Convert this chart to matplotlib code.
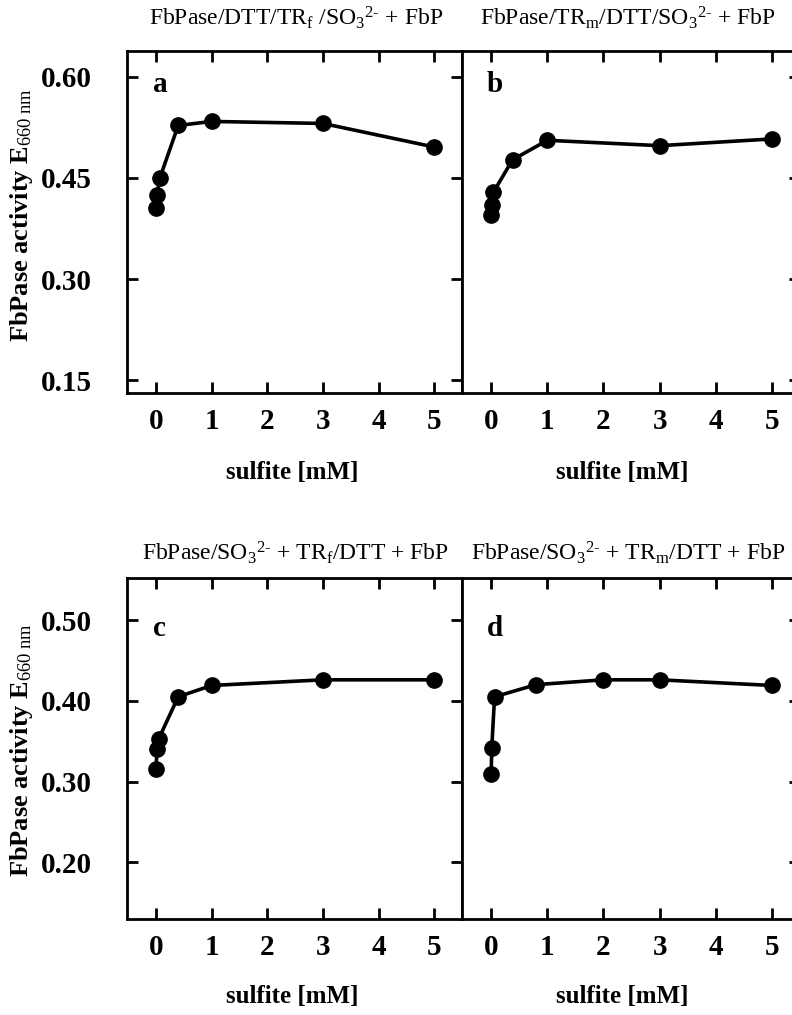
import matplotlib
matplotlib.use("Agg")
import matplotlib.pyplot as plt

plt.rcParams['font.family'] = ['Liberation Serif', 'DejaVu Serif']
plt.rcParams['mathtext.fontset'] = 'custom'
plt.rcParams['mathtext.rm'] = 'Liberation Serif'
plt.rcParams['mathtext.it'] = 'Liberation Serif:italic'
plt.rcParams['mathtext.bf'] = 'Liberation Serif:bold'

# sulfite concentration [mM] and FbPase activity (E660 nm) per panel
sulfite_a = [0, 0.02, 0.07, 0.4, 1, 3, 5]
activity_a = [0.405, 0.425, 0.450, 0.528, 0.534, 0.531, 0.496]

sulfite_b = [0, 0.02, 0.04, 0.38, 1, 3, 5]
activity_b = [0.395, 0.410, 0.429, 0.477, 0.506, 0.498, 0.508]

sulfite_c = [0, 0.02, 0.05, 0.4, 1, 3, 5]
activity_c = [0.316, 0.340, 0.353, 0.405, 0.419, 0.426, 0.426]

sulfite_d = [0, 0.01, 0.06, 0.8, 2, 3, 5]
activity_d = [0.310, 0.342, 0.405, 0.420, 0.426, 0.426, 0.419]

titles = [r'FbPase/DTT/TR$_\mathrm{f}$ /SO$_3$$^{2\text{-}}$ + FbP',
          r'FbPase/TR$_\mathrm{m}$/DTT/SO$_3$$^{2\text{-}}$ + FbP',
          r'FbPase/SO$_3$$^{2\text{-}}$ + TR$_\mathrm{f}$/DTT + FbP',
          r'FbPase/SO$_3$$^{2\text{-}}$ + TR$_\mathrm{m}$/DTT + FbP']
letters = ['a', 'b', 'c', 'd']
xticks = [0, 1, 2, 3, 4, 5]
yticks_top = [0.15, 0.30, 0.45, 0.60]
yticks_bottom = [0.20, 0.30, 0.40, 0.50]

W, H = 792, 1015
fig = plt.figure(figsize=(W / 100, H / 100), dpi=100)


def box(x0, y0, x1, y1):
    # pixel box (top-left origin) -> figure fraction rect
    return [x0 / W, 1 - y1 / H, (x1 - x0) / W, (y1 - y0) / H]


axes = [fig.add_axes(box(127, 51, 462, 393)),
        fig.add_axes(box(462, 51, 800, 393)),
        fig.add_axes(box(127, 578, 462, 919)),
        fig.add_axes(box(462, 578, 800, 919))]

data = [(sulfite_a, activity_a), (sulfite_b, activity_b),
        (sulfite_c, activity_c), (sulfite_d, activity_d)]

for i, ax in enumerate(axes):
    x, y = data[i]
    ax.plot(x, y, '-o', color='black', lw=2.6, ms=11, zorder=3)
    ax.set_xlim(-0.52, 5.5)
    if i < 2:
        ax.set_ylim(0.1307, 0.6386)
        ax.set_yticks(yticks_top)
        ax.set_yticklabels(['%.2f' % v for v in yticks_top])
    else:
        ax.set_ylim(0.13, 0.552)
        ax.set_yticks(yticks_bottom)
        ax.set_yticklabels(['%.2f' % v for v in yticks_bottom])
    ax.set_xticks(xticks)
    for s in ax.spines.values():
        s.set_linewidth(2)
    ax.tick_params(direction='in', length=8, width=2, top=True, right=True,
                   labelsize=21)
    ax.tick_params(axis='x', pad=11)
    ax.tick_params(axis='y', pad=25)
    for lab in ax.get_xticklabels() + ax.get_yticklabels():
        lab.set_fontweight('bold')
    if i % 2 == 1:
        ax.tick_params(left=False, labelleft=False)
    lx = 0.078 if i % 2 == 0 else 0.074
    ly = 0.903 if i < 2 else 0.853
    ax.text(lx, ly, letters[i], transform=ax.transAxes,
            fontsize=21, fontweight='bold', va='center', ha='left')

# titles, axis labels (pixel positions)
tpos = [(296, 18), (628, 18), (295, 553), (628, 553)]
for (px, py), t in zip(tpos, titles):
    fig.text(px / W, 1 - py / H, t, fontsize=17, ha='center', va='center')

for px, py in [(292, 472), (622, 472), (292, 997), (622, 997)]:
    fig.text(px / W, 1 - py / H, 'sulfite [mM]', fontsize=18,
             fontweight='bold', ha='center', va='center')

for py in [215, 750]:
    fig.text(22 / W, 1 - py / H, r'FbPase activity E$_{660\ \mathrm{nm}}$',
             fontsize=19, fontweight='bold', rotation=90,
             ha='center', va='center')

fig.savefig('out.png', dpi=100)
